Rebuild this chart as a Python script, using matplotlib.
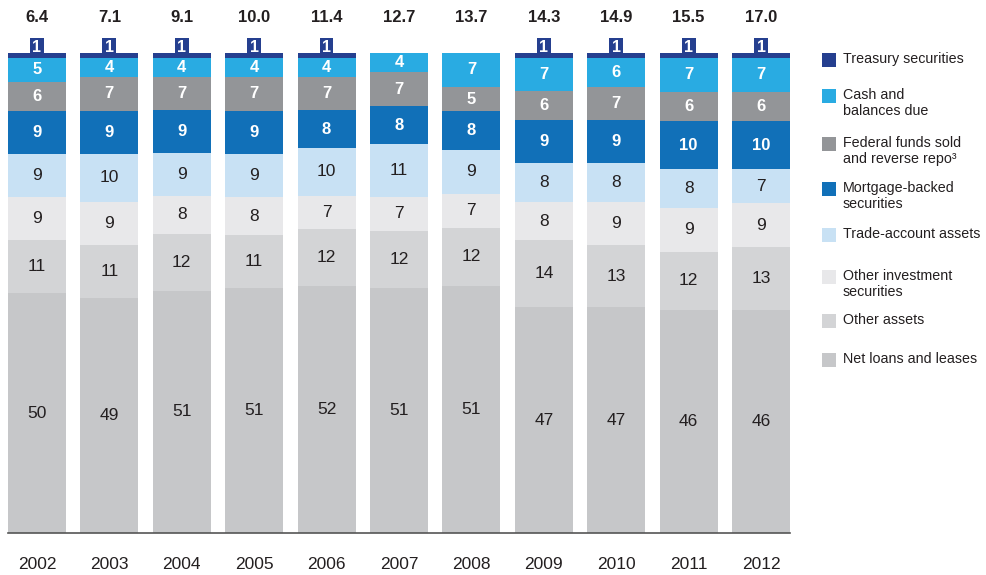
import numpy as np
import matplotlib
matplotlib.use("Agg")
import matplotlib.pyplot as plt
from matplotlib.patches import Rectangle

plt.rcParams['font.family'] = ['Liberation Sans', 'DejaVu Sans']

years = ['2002', '2003', '2004', '2005', '2006', '2007', '2008', '2009', '2010', '2011', '2012']
totals = ['6.4', '7.1', '9.1', '10.0', '11.4', '12.7', '13.7', '14.3', '14.9', '15.5', '17.0']

# bottom to top
net_loans = [50, 49, 51, 51, 52, 51, 51, 47, 47, 46, 46]
other_assets = [11, 11, 12, 11, 12, 12, 12, 14, 13, 12, 13]
other_inv = [9, 9, 8, 8, 7, 7, 7, 8, 9, 9, 9]
trade = [9, 10, 9, 9, 10, 11, 9, 8, 8, 8, 7]
mbs = [9, 9, 9, 9, 8, 8, 8, 9, 9, 10, 10]
fed_funds = [6, 7, 7, 7, 7, 7, 5, 6, 7, 6, 6]
cash = [5, 4, 4, 4, 4, 4, 7, 7, 6, 7, 7]
treasury = [1, 1, 1, 1, 1, 0, 0, 1, 1, 1, 1]

series = [net_loans, other_assets, other_inv, trade, mbs, fed_funds, cash, treasury]
names = ['Net loans and leases', 'Other assets', 'Other investment\nsecurities',
         'Trade-account assets', 'Mortgage-backed\nsecurities',
         'Federal funds sold\nand reverse repo\u00b3', 'Cash and\nbalances due',
         'Treasury securities']
colors = ['#c6c7c9', '#d3d4d6', '#e8e8ea', '#c8e1f4', '#1170b8', '#939598', '#29abe2', '#253f8f']
dark = [False, False, False, False, True, True, True, True]

W, H = 987, 575
fig = plt.figure(figsize=(W / 100, H / 100), dpi=100)
ax = fig.add_axes([8 / W, (H - 533) / H, 782 / W, 480 / H])

x = np.arange(len(years))
data = np.array(series, dtype=float)
sums = data.sum(axis=0)
norm = data / sums * 100
bottom = np.zeros(len(years))
txt_col = '#231f20'
for k in range(len(series)):
    ax.bar(x, norm[k], bottom=bottom, width=0.8, color=colors[k], edgecolor='none')
    if k < 7:
        for i in range(len(years)):
            yc = bottom[i] + norm[k][i] / 2
            if dark[k]:
                ax.text(x[i], yc, str(series[k][i]), ha='center', va='center',
                        color='white', fontsize=12, fontweight='bold')
            else:
                ax.text(x[i], yc, str(series[k][i]), ha='center', va='center',
                        color=txt_col, fontsize=12.5)
    bottom += norm[k]

# treasury tags above bars
for i in range(len(years)):
    if treasury[i] > 0:
        ax.annotate(str(treasury[i]), (x[i], 100), xytext=(0, -1.5), textcoords='offset points',
                    ha='center', va='bottom', color='white', fontsize=11.5, fontweight='bold',
                    annotation_clip=False,
                    bbox=dict(boxstyle='square,pad=0.15', fc=colors[7], ec='none'))
    ax.text(x[i], 1.075, totals[i], transform=ax.get_xaxis_transform(), ha='center',
            va='center', fontsize=12, fontweight='bold', color=txt_col)

ax.set_xlim(-0.4, len(years) - 0.6)
ax.set_ylim(0, 100)
for s in ['top', 'right', 'left']:
    ax.spines[s].set_visible(False)
ax.spines['bottom'].set_color('#555555')
ax.spines['bottom'].set_linewidth(1.2)
ax.set_yticks([])
ax.set_xticks(x)
ax.set_xticklabels(years, fontsize=12.5, color=txt_col)
ax.tick_params(axis='x', length=0, pad=17)

# legend, top to bottom
leg_y = [53, 89, 137, 182, 228, 270, 314, 353]
for j, yy in enumerate(leg_y):
    k = 7 - j
    fig.add_artist(Rectangle((822 / W, 1 - (yy + 14) / H), 14 / W, 14 / H,
                             transform=fig.transFigure, fc=colors[k], ec='none'))
    fig.text(843 / W, 1 - (yy - 1) / H, names[k], ha='left', va='top', fontsize=10.3,
             color=txt_col, linespacing=1.2)

fig.savefig('out.png', dpi=100)
